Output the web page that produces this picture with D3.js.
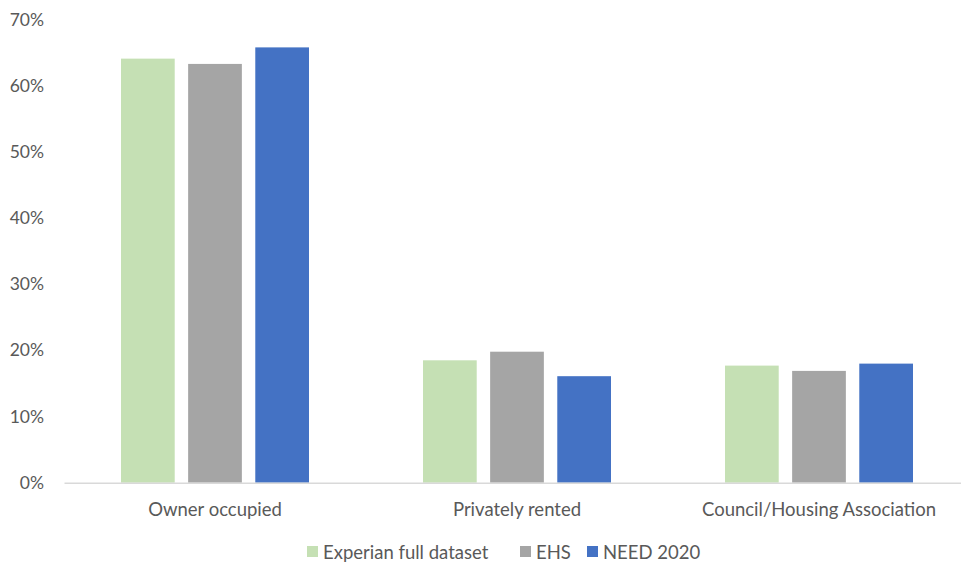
<!DOCTYPE html>
<html>
<head>
<meta charset="utf-8">
<script src="https://cdn.jsdelivr.net/npm/d3@7"></script>
<style>
  html, body { margin: 0; padding: 0; background: #fff; }
  svg { display: block; font-family: Lato, "Open Sans", sans-serif; }
</style>
</head>
<body>
<svg id="chart" width="961" height="563"></svg>
<script>
// Housing tenure shares by data source
const categories = ["Owner occupied", "Privately rented", "Council/Housing Association"];
const seriesNames = ["Experian full dataset", "EHS", "NEED 2020"];
const experian = [64.1, 18.5, 17.7];
const ehs = [63.3, 19.8, 16.9];
const need2020 = [65.8, 16.1, 18.0];
const yTicks = [0, 10, 20, 30, 40, 50, 60, 70];
const colors = ["#C5E0B4", "#A5A5A5", "#4472C4"];

const seriesValues = [experian, ehs, need2020];

const svg = d3.select("#chart");
const margin = { left: 64, right: -9, top: 19.6, bottom: 80.3 };
const width = 961 - margin.left - margin.right;
const height = 563 - margin.top - margin.bottom;
const g = svg.append("g").attr("transform", `translate(${margin.left},${margin.top})`);

const x0 = d3.scaleBand().domain(categories).range([0, width]).paddingInner(0).paddingOuter(0);
const x1 = d3.scaleBand().domain(seriesNames).range([57, x0.bandwidth() - 57]).paddingInner(0.2).paddingOuter(0);
const y = d3.scaleLinear().domain([0, 70]).range([height, 0]);

const textColor = "#595959";

// y axis labels
const yAxis = d3.axisLeft(y).tickValues(yTicks).tickFormat(d => d + "%").tickSize(0).tickPadding(20);
const ya = g.append("g").call(yAxis);
ya.select(".domain").remove();
ya.selectAll("text").attr("fill", textColor).style("font-size", "17.5px").style("font-family", "Lato, sans-serif");

// bars
const groups = g.selectAll("g.cat").data(categories).join("g")
  .attr("class", "cat")
  .attr("transform", d => `translate(${x0(d)},0)`);

groups.selectAll("rect").data((c, i) => seriesNames.map((s, j) => ({ s, v: seriesValues[j][i], j })))
  .join("rect")
  .attr("x", d => x1(d.s))
  .attr("width", x1.bandwidth())
  .attr("y", d => y(d.v))
  .attr("height", d => y(0) - y(d.v))
  .attr("fill", d => colors[d.j]);

// x axis
const xAxis = d3.axisBottom(x0).tickSize(0).tickPadding(20);
const xa = g.append("g").attr("transform", `translate(0,${height})`).call(xAxis);
xa.select(".domain").attr("stroke", "#D9D9D9").attr("stroke-width", 1.5);
xa.selectAll("text").attr("fill", textColor).style("font-size", "18.5px").style("font-family", "Lato, sans-serif");

// legend
const legendItems = [
  { name: seriesNames[0], x: 307 },
  { name: seriesNames[1], x: 520 },
  { name: seriesNames[2], x: 587 }
];
const legend = svg.append("g");
legendItems.forEach((d, i) => {
  legend.append("rect").attr("x", d.x).attr("y", 546).attr("width", 11).attr("height", 11).attr("fill", colors[i]);
  legend.append("text").attr("x", d.x + 16).attr("y", 558.5)
    .attr("fill", textColor).style("font-size", "18.5px").style("font-family", "Lato, sans-serif")
    .text(d.name);
});
</script>
</body>
</html>
